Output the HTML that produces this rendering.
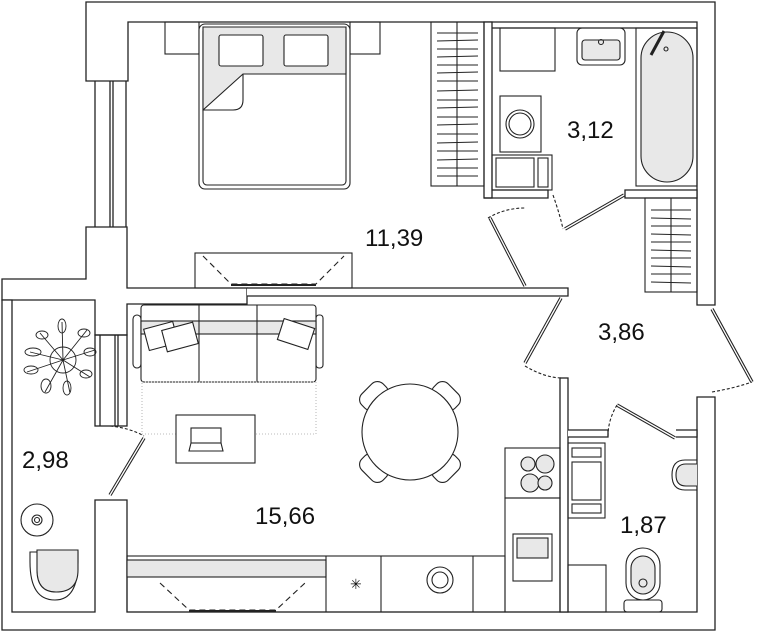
<!DOCTYPE html>
<html><head><meta charset="utf-8"><style>
html,body{margin:0;padding:0;background:#fff;}
svg{display:block;}
text{font-family:"Liberation Sans",sans-serif;fill:#111;}
</style></head><body>
<svg width="758" height="632" viewBox="0 0 758 632" xmlns="http://www.w3.org/2000/svg">
<g fill="none" stroke="#222" stroke-width="1.3">
<path d="M86 2 H715 V305 H697 V22 H128 V81 H86 Z" fill="#fff"/>
<path d="M86 227 H127 V288 H247 V304 H127 V335 H95 V300 H2 V279 H86 Z" fill="#fff"/>
<path d="M2 300 V630 H715 V397 H697 V612 H127 V500 H95 V612 H12 V300 Z" fill="#fff"/>
<line x1="95" y1="81" x2="95" y2="227"/><line x1="110" y1="81" x2="110" y2="227"/><line x1="113" y1="81" x2="113" y2="227"/><line x1="126" y1="81" x2="126" y2="227"/>
<line x1="100" y1="335" x2="100" y2="426"/><line x1="115" y1="335" x2="115" y2="426"/><line x1="118" y1="335" x2="118" y2="426"/><rect x="95" y="335" width="32" height="91"/>
<path d="M247 288 H568 V296 H247" fill="#fff"/>
<rect x="484" y="22" width="8" height="176" fill="#fff"/>
<path d="M492 190 H548 V198 H484" />
<path d="M625 190 H697 V198 H625 Z" fill="#fff"/>
<path d="M697 28 H492" />
<rect x="560" y="378" width="8" height="234" fill="#fff"/>
<path d="M568 430 H608 V437 H568" fill="#fff"/>
<path d="M676 430 H697 V437 H676" fill="#fff"/>
</g>

<g stroke="#222" stroke-width="1.1" fill="none">
<rect x="165" y="22" width="34" height="32"/>
<rect x="350" y="22" width="30" height="32"/>
<rect x="199" y="24" width="151" height="165" rx="6" fill="#fff"/>
<rect x="203" y="27" width="143" height="158" rx="4"/>
<path d="M203 27 H346 V74 H243 L203 110 Z" fill="#e8e8e8"/>
<path d="M243 74 V100 Q243 110 233 110 H203"/>
<rect x="219" y="35" width="44" height="31" rx="2" fill="#fff"/>
<rect x="284" y="35" width="44" height="31" rx="2" fill="#fff"/>
<rect x="195" y="253" width="157" height="35"/>
<path d="M203 256 L231 284 H316 L344 256" stroke-dasharray="6,4"/>
<line x1="231" y1="285" x2="316" y2="285" stroke-width="2"/>
<rect x="431" y="22" width="53" height="164"/>
<line x1="457" y1="22" x2="457" y2="186"/>
</g>
<g stroke="#222" stroke-width="0.9">
<line x1="437" y1="33" x2="478" y2="33"/><line x1="437" y1="41" x2="478" y2="40"/><line x1="437" y1="49" x2="478" y2="49"/><line x1="437" y1="57" x2="478" y2="56"/><line x1="437" y1="65" x2="478" y2="65"/><line x1="437" y1="73" x2="478" y2="72"/><line x1="437" y1="81" x2="478" y2="81"/><line x1="437" y1="91" x2="478" y2="90"/><line x1="437" y1="100" x2="478" y2="100"/><line x1="437" y1="108" x2="478" y2="107"/><line x1="437" y1="117" x2="478" y2="117"/><line x1="437" y1="125" x2="478" y2="124"/><line x1="437" y1="134" x2="478" y2="134"/><line x1="437" y1="143" x2="478" y2="142"/><line x1="437" y1="151" x2="478" y2="151"/><line x1="437" y1="160" x2="478" y2="159"/><line x1="437" y1="168" x2="478" y2="168"/><line x1="437" y1="176" x2="478" y2="176"/>
<line x1="651" y1="210" x2="691" y2="210"/><line x1="651" y1="218" x2="691" y2="219"/><line x1="651" y1="226" x2="691" y2="226"/><line x1="651" y1="234" x2="691" y2="235"/><line x1="651" y1="242" x2="691" y2="242"/><line x1="651" y1="250" x2="691" y2="251"/><line x1="651" y1="258" x2="691" y2="258"/><line x1="651" y1="266" x2="691" y2="267"/><line x1="651" y1="274" x2="691" y2="274"/><line x1="651" y1="282" x2="691" y2="283"/>
</g>
<g stroke="#222" stroke-width="1.1" fill="none">
<rect x="645" y="198" width="52" height="94"/>
<line x1="671" y1="198" x2="671" y2="292"/>
<rect x="500" y="28" width="55" height="43"/>
<rect x="500" y="96" width="41" height="56"/>
<circle cx="520" cy="124" r="14"/><circle cx="520" cy="124" r="11"/>
<rect x="492" y="155" width="60" height="35"/>
<rect x="496" y="158" width="38" height="29"/><rect x="538" y="158" width="10" height="29"/>
<rect x="577" y="28" width="48" height="37" rx="5"/>
<rect x="582" y="40" width="38" height="20" rx="3" fill="#e8e8e8"/>
<circle cx="601" cy="42" r="2.5"/>
<rect x="636" y="28" width="61" height="158"/>
<rect x="641" y="32" width="52" height="150" rx="26" fill="#e8e8e8"/>
<line x1="651" y1="55" x2="664" y2="31" stroke-width="3"/>
<circle cx="666" cy="49" r="2"/>
<g stroke-width="3.4" stroke="#222">
<line x1="490" y1="218" x2="525" y2="286"/>
<line x1="565" y1="229" x2="624" y2="195"/>
<line x1="525" y1="363" x2="561" y2="298"/>
<line x1="712" y1="309" x2="752" y2="382"/>
<line x1="617" y1="405" x2="675" y2="438"/>
<line x1="110" y1="495" x2="144" y2="438"/>
</g>
<g stroke-width="1.3" stroke="#fff">
<line x1="490" y1="218" x2="525" y2="286"/>
<line x1="565" y1="229" x2="624" y2="195"/>
<line x1="525" y1="363" x2="561" y2="298"/>
<line x1="712" y1="309" x2="752" y2="382"/>
<line x1="617" y1="405" x2="675" y2="438"/>
<line x1="110" y1="495" x2="144" y2="438"/>
</g>
<path d="M488 218 Q505 208 525 208" stroke-dasharray="3,2"/>
<path d="M553 195 Q560 215 563 229" stroke-dasharray="3,2"/>
<path d="M525 366 Q545 378 563 378" stroke-dasharray="3,2"/>
<path d="M712 392 Q735 388 752 382" stroke-dasharray="3,2"/>
<path d="M617 405 Q608 420 608 436" stroke-dasharray="3,2"/>
<path d="M110 426 Q130 428 144 436" stroke-dasharray="3,2"/>
<rect x="133" y="315" width="8" height="53" rx="4"/>
<rect x="316" y="315" width="7" height="53" rx="3"/>
<rect x="141" y="305" width="175" height="77" rx="3" fill="#fff"/>
<rect x="141" y="321" width="175" height="13" fill="#e8e8e8"/>
<line x1="199" y1="305" x2="199" y2="382"/><line x1="257" y1="305" x2="257" y2="382"/>
<rect x="146" y="325" width="30" height="22" transform="rotate(-15 161 336)" fill="#fff"/>
<rect x="164" y="326" width="32" height="22" transform="rotate(-15 180 337)" fill="#fff"/>
<rect x="280" y="323" width="32" height="22" transform="rotate(18 296 334)" fill="#fff"/>
<rect x="142" y="382" width="174" height="52" stroke="#bbb" stroke-dasharray="1,2"/>
<rect x="176" y="415" width="79" height="48" fill="#fff"/>
<rect x="191" y="428" width="30" height="15"/><path d="M189 451 H223 L221 443 H191 Z"/>
<g fill="#fff">
<g transform="rotate(-45 410 432)"><rect x="395" y="371" width="30" height="20" rx="8"/></g>
<g transform="rotate(45 410 432)"><rect x="395" y="371" width="30" height="20" rx="8"/></g>
<g transform="rotate(135 410 432)"><rect x="395" y="371" width="30" height="20" rx="8"/></g>
<g transform="rotate(225 410 432)"><rect x="395" y="371" width="30" height="20" rx="8"/></g>
<circle cx="410" cy="432" r="48"/>
</g>
<rect x="505" y="448" width="55" height="50"/>
<circle cx="528" cy="464" r="7" fill="#e8e8e8"/><circle cx="545" cy="464" r="9" fill="#e8e8e8"/>
<circle cx="530" cy="483" r="9" fill="#e8e8e8"/><circle cx="545" cy="483" r="7" fill="#e8e8e8"/>
<rect x="505" y="498" width="55" height="114"/>
<rect x="513" y="534" width="39" height="47"/><rect x="517" y="538" width="31" height="20" fill="#e8e8e8"/>
<rect x="127" y="556" width="378" height="56"/>
<rect x="127" y="560" width="199" height="17" fill="#e8e8e8"/>
<line x1="326" y1="556" x2="326" y2="612"/><line x1="381" y1="556" x2="381" y2="612"/><line x1="473" y1="556" x2="473" y2="612"/>
<path d="M160 583 L189 610 H276 L305 583" stroke-dasharray="6,4"/>
<line x1="189" y1="611" x2="276" y2="611" stroke-width="2"/>
<circle cx="440" cy="580" r="13"/><circle cx="440" cy="580" r="8"/>
<rect x="568" y="443" width="37" height="75"/>
<rect x="572" y="448" width="29" height="9"/><rect x="572" y="462" width="29" height="38"/><rect x="572" y="504" width="29" height="9"/>
<rect x="568" y="565" width="38" height="47"/>
<rect x="626" y="548" width="34" height="52" rx="17"/>
<rect x="631" y="556" width="24" height="38" rx="12" fill="#e8e8e8"/>
<circle cx="643" cy="583" r="4"/>
<rect x="624" y="600" width="38" height="12" rx="3"/>
<path d="M697 460 H685 Q672 460 672 475 Q672 490 685 490 H697" />
<path d="M697 464 H686 Q676 464 676 475 Q676 486 686 486 H697" fill="#e8e8e8"/>
<circle cx="37" cy="520" r="16"/><circle cx="37" cy="520" r="5"/><circle cx="37" cy="520" r="2.5"/>
<path d="M30 552 H78 V562 Q78 600 55 600 Q30 600 30 562 Z" />
<path d="M37 550 H78 V570 Q78 592 56 592 Q37 592 37 570 Z" fill="#e8e8e8"/>
<g stroke-width="0.9">
<circle cx="63" cy="360" r="13"/>
<path d="M63 360 L30 352 M63 360 L40 333 M63 360 L62 322 M63 360 L87 330 M63 360 L95 350 M63 360 L90 377 M63 360 L70 393 M63 360 L45 392 M63 360 L27 372"/>
<ellipse cx="33" cy="352" rx="8" ry="4"/><ellipse cx="42" cy="335" rx="6" ry="4"/><ellipse cx="62" cy="326" rx="4" ry="7"/><ellipse cx="84" cy="333" rx="6" ry="4"/><ellipse cx="90" cy="352" rx="6" ry="4"/><ellipse cx="86" cy="374" rx="6" ry="4"/><ellipse cx="67" cy="388" rx="4" ry="7"/><ellipse cx="46" cy="386" rx="5" ry="7"/><ellipse cx="31" cy="370" rx="7" ry="4"/>
</g>
</g>
<text x="350" y="589" font-size="14" fill="#222">✳</text>
<text x="365" y="246" font-size="24">11,39</text>
<text x="567" y="138" font-size="24">3,12</text>
<text x="598" y="340" font-size="24">3,86</text>
<text x="22" y="468" font-size="24">2,98</text>
<text x="255" y="524" font-size="24">15,66</text>
<text x="620" y="533" font-size="24">1,87</text>
</svg>
</body></html>
